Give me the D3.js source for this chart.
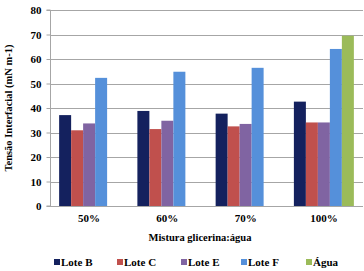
<!DOCTYPE html>
<html><head><meta charset="utf-8">
<script src="https://cdn.jsdelivr.net/npm/d3@7"></script>
<style>body{margin:0;background:#fff}svg{display:block}</style>
</head><body>
<script>
const categories = ["50%", "60%", "70%", "100%"];
const seriesNames = ["Lote B", "Lote C", "Lote E", "Lote F", "Água"];
const loteB = [37.1, 38.8, 37.7, 42.6];
const loteC = [30.9, 31.4, 32.5, 34.1];
const loteE = [33.7, 34.8, 33.5, 34.1];
const loteF = [52.3, 54.8, 56.4, 64.1];
const agua  = [null, null, null, 69.5];
const yTicks = [0, 10, 20, 30, 40, 50, 60, 70, 80];
const colors = ["#14215E", "#C0504D", "#8064A2", "#5590DA", "#9BBB59"];

const seriesValues = [loteB, loteC, loteE, loteF, agua];
const W = 364, H = 271;
const m = {left: 50, right: 1, top: 10, bottom: 65};
const svg = d3.select("body").append("svg").attr("width", W).attr("height", H);
const font = "'Liberation Serif', 'Times New Roman', serif";

const x = d3.scaleBand().domain(categories).range([m.left, W - m.right]).paddingInner(0.2335).paddingOuter(0.1167);
const x1 = d3.scaleBand().domain(seriesNames).range([0, x.bandwidth()]);
const y = d3.scaleLinear().domain([0, 80]).range([H - m.bottom, m.top]);

// gridlines
svg.append("g").selectAll("line").data(yTicks.filter(d => d > 0)).join("line")
  .attr("x1", m.left).attr("x2", W - m.right)
  .attr("y1", d => Math.round(y(d)) + 0.5).attr("y2", d => Math.round(y(d)) + 0.5)
  .attr("stroke", "#A6A6A6").attr("stroke-width", 1);

// y axis
const ya = svg.append("g").attr("transform", `translate(${m.left + 0.5},0)`)
  .call(d3.axisLeft(y).tickValues(yTicks).tickSize(4).tickPadding(5).tickFormat(d3.format("d")));
ya.select(".domain").attr("stroke", "#A6A6A6").attr("d", `M-4,${y(0)}H0V${y(80)}H-4`);
ya.selectAll(".tick line").attr("stroke", "#A6A6A6");
ya.selectAll("text").attr("font-family", font).attr("font-weight", "bold").attr("font-size", 11).attr("fill", "#000");

// bars
const g = svg.append("g");
seriesNames.forEach((s, si) => {
  g.append("g").selectAll("rect").data(categories.map((c, ci) => ({c, v: seriesValues[si][ci]})).filter(d => d.v != null))
    .join("rect")
    .attr("x", d => x(d.c) + x1(s))
    .attr("width", x1.bandwidth())
    .attr("y", d => y(d.v))
    .attr("height", d => y(0) - y(d.v))
    .attr("fill", colors[si]);
});

// x axis
const xa = svg.append("g").attr("transform", `translate(0,${Math.round(y(0)) + 0.5})`)
  .call(d3.axisBottom(x).tickSize(0).tickPadding(8));
xa.select(".domain").attr("stroke", "#A6A6A6").attr("d", `M${m.left},0H${W - m.right}`);
xa.selectAll("text").attr("font-family", font).attr("font-weight", "bold").attr("font-size", 11).attr("fill", "#000");

// axis titles
svg.append("text").attr("x", 200).attr("y", 241).attr("text-anchor", "middle")
  .attr("font-family", font).attr("font-weight", "bold").attr("font-size", 10.5).text("Mistura glicerina:água");
svg.append("text").attr("transform", `translate(12,${(y(0) + y(80)) / 2}) rotate(-90)`).attr("text-anchor", "middle")
  .attr("font-family", font).attr("font-weight", "bold").attr("font-size", 10.5).text("Tensão Interfacial (mN m-1)");

// legend
const legX = [54, 117, 181, 241, 306];
const leg = svg.append("g");
seriesNames.forEach((s, i) => {
  leg.append("rect").attr("x", legX[i]).attr("y", 259).attr("width", 6).attr("height", 6).attr("fill", colors[i]);
  leg.append("text").attr("x", legX[i] + 7).attr("y", 265.5).attr("font-family", font).attr("font-weight", "bold")
    .attr("font-size", 11).text(s);
});
</script>
</body></html>
